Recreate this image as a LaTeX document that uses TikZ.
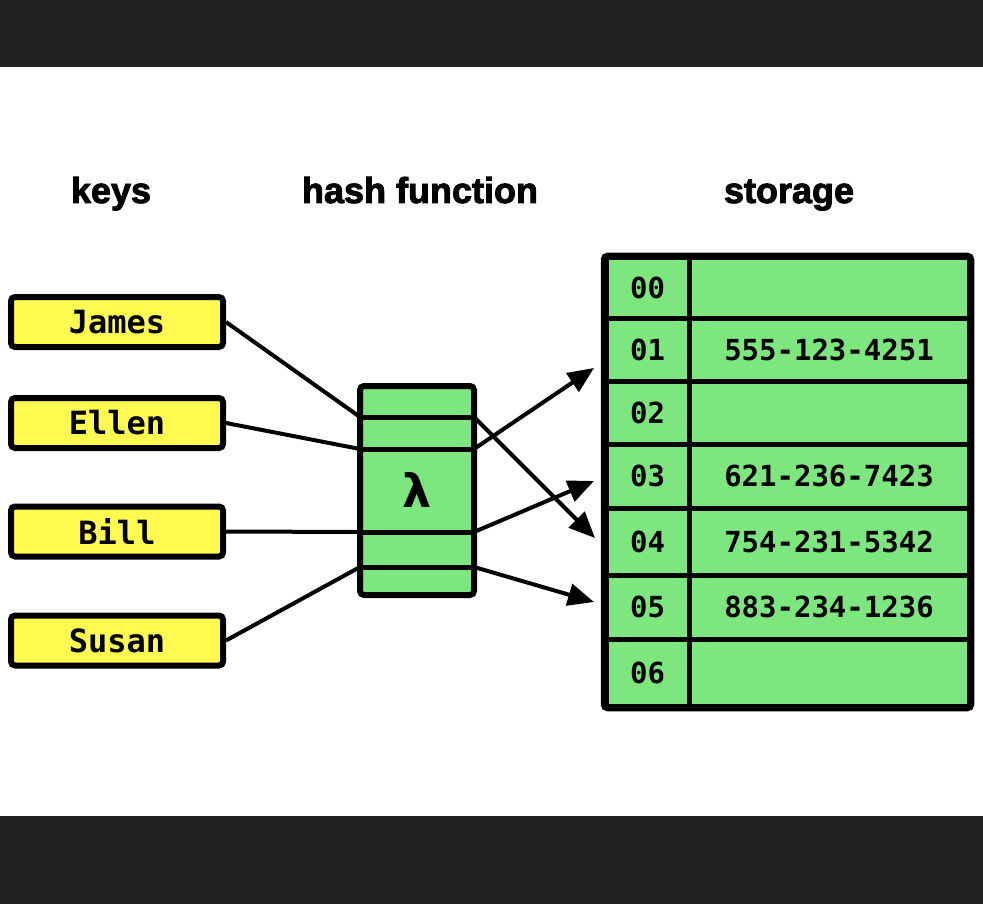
\documentclass[tikz,border=0pt]{standalone}
\usepackage{fontspec}
\usetikzlibrary{arrows.meta}
\newfontfamily\headfont[FakeBold=2.5]{Liberation Sans}
\newfontfamily\codefont{DejaVu Sans Mono}
\newfontfamily\lamfont{DejaVu Sans}
\definecolor{band}{HTML}{222222}
\definecolor{keyyellow}{HTML}{FFFA50}
\definecolor{cellgreen}{HTML}{7EE67E}
\tikzset{
  heading/.style={anchor=base, font=\headfont\bfseries\fontsize{36}{40}\selectfont},
  keybox/.style={draw=black, line width=6pt, fill=keyyellow, rounded corners=4pt,
    minimum width=212pt, minimum height=50pt, inner sep=0pt,
    font=\codefont\bfseries\fontsize{32}{34}\selectfont},
  hashbox/.style={draw=black, line width=6pt, fill=cellgreen, rounded corners=4pt,
    minimum width=114pt, minimum height=209pt, inner sep=0pt,
    font=\lamfont\bfseries\fontsize{46}{50}\selectfont},
  idxcell/.style={draw=black, line width=5pt, fill=cellgreen, minimum width=83pt,
    inner sep=0pt, font=\codefont\bfseries\fontsize{29}{32}\selectfont},
  valcell/.style={draw=black, line width=5pt, fill=cellgreen, minimum width=280pt,
    inner sep=0pt, font=\codefont\bfseries\fontsize{29}{32}\selectfont},
  link/.style={draw=black, line width=4pt},
  arrowlink/.style={link, -{Triangle[length=26pt,width=22pt]}},
}
\begin{document}
\begin{tikzpicture}[x=1pt,y=-1pt]
\useasboundingbox (0,0) rectangle (983,904);
\fill[white] (0,0) rectangle (983,904);
\fill[band] (0,0) rectangle (983,67);
\fill[band] (0,816) rectangle (983,904);

% headings
\node[heading] (hkeys) at (111,203) {keys};
\node[heading] (hhash) at (420,203) {hash function};
\node[heading] (hstor) at (789,203) {storage};

% keys
\node[keybox] (james) at (117,322) {James};
\node[keybox] (ellen) at (117,423) {Ellen};
\node[keybox] (bill)  at (117,531.5) {Bill};
\node[keybox] (susan) at (117,640.5) {Susan};

% storage table
\node[idxcell, minimum height=60pt] (i0) at (647.5,288) {00};
\node[valcell, minimum height=60pt] (v0) at (829,288) {};
\node[idxcell, minimum height=63pt] (i1) at (647.5,349.5) {01};
\node[valcell, minimum height=63pt] (v1) at (829,349.5) {555-123-4251};
\node[idxcell, minimum height=63pt] (i2) at (647.5,412.5) {02};
\node[valcell, minimum height=63pt] (v2) at (829,412.5) {};
\node[idxcell, minimum height=64pt] (i3) at (647.5,476) {03};
\node[valcell, minimum height=64pt] (v3) at (829,476) {621-236-7423};
\node[idxcell, minimum height=67pt] (i4) at (647.5,541.5) {04};
\node[valcell, minimum height=67pt] (v4) at (829,541.5) {754-231-5342};
\node[idxcell, minimum height=64pt] (i5) at (647.5,607) {05};
\node[valcell, minimum height=64pt] (v5) at (829,607) {883-234-1236};
\node[idxcell, minimum height=67pt] (i6) at (647.5,672.5) {06};
\node[valcell, minimum height=67pt] (v6) at (829,672.5) {};
\draw[line width=5.5pt, rounded corners=4pt] (i0.north west) rectangle (v6.south east);

% hash function box
\node[hashbox] (hash) at (417,490.5) {λ};
\coordinate (d1w) at (360,417);
\coordinate (d1e) at (474,417);
\coordinate (d2w) at (360,449);
\coordinate (d2e) at (474,449);
\coordinate (d3w) at (360,532);
\coordinate (d3e) at (474,532);
\coordinate (d4w) at (360,567);
\coordinate (d4e) at (474,567);
\draw[line width=5pt] (d1w) -- (d1e);
\draw[line width=5pt] (d2w) -- (d2e);
\draw[line width=5pt] (d3w) -- (d3e);
\draw[line width=5pt] (d4w) -- (d4e);

% connectors keys -> hash
\draw[link] (james.east) -- (d1w);
\draw[link] (ellen.east) -- (d2w);
\draw[link] (bill.east) -- (d3w);
\draw[link] (susan.east) -- (d4w);

% connectors hash -> storage
\coordinate (t1) at (594,368);
\coordinate (t2) at (594,481);
\coordinate (t3) at (595,538);
\coordinate (t4) at (594,602);
\draw[arrowlink] (d1e) -- (t3);
\draw[arrowlink] (d2e) -- (t1);
\draw[arrowlink] (d3e) -- (t2);
\draw[arrowlink] (d4e) -- (t4);
\end{tikzpicture}
\end{document}
